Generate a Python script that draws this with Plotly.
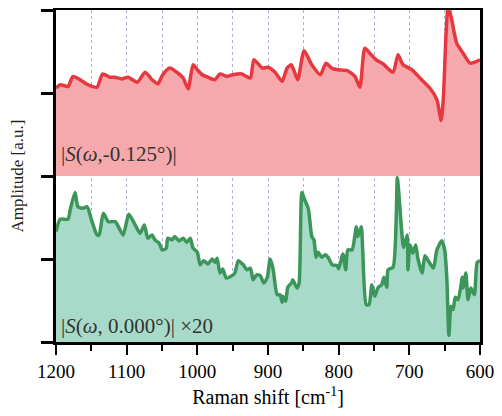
import plotly.graph_objects as go

# Red (top) series: Raman shift [cm^-1] and amplitude (plot units, baseline 2)
red_x = [1200, 1194, 1183, 1176, 1166, 1155, 1142, 1134, 1124, 1117, 1107, 1098, 1085, 1074,
         1064, 1056, 1049, 1039, 1029, 1020, 1013, 1006, 1000, 993, 985, 975, 968, 958, 950,
         937, 925, 920, 908, 900, 890, 880, 873, 867, 858, 849, 838, 826, 818, 810, 801, 788,
         777, 770, 763, 756, 747, 737, 723, 716, 709, 696, 685, 671, 661, 655, 652, 648, 645,
         640, 633, 624, 614, 600]
red_y = [3.06, 3.10, 3.08, 3.20, 3.16, 3.10, 3.07, 3.23, 3.19, 3.19, 3.17, 3.19, 3.13, 3.25,
         3.16, 3.11, 3.22, 3.30, 3.25, 3.18, 3.05, 3.34, 3.28, 3.22, 3.19, 3.16, 3.23, 3.20, 3.22,
         3.23, 3.18, 3.40, 3.30, 3.31, 3.25, 3.14, 3.30, 3.34, 3.16, 3.51, 3.34, 3.22, 3.36, 3.30,
         3.28, 3.27, 3.20, 3.07, 3.54, 3.48, 3.40, 3.35, 3.25, 3.46, 3.34, 3.28, 3.18, 3.06, 2.92,
         2.67, 2.92, 3.72, 4.05, 3.88, 3.60, 3.48, 3.36, 3.40]

# Green (bottom) series, ×20
green_x = [1200, 1194, 1183, 1180, 1173, 1169, 1162, 1156, 1149, 1142, 1139, 1133, 1126, 1116,
           1105, 1097, 1088, 1081, 1075, 1070, 1064, 1060, 1054, 1050, 1044, 1042, 1036, 1032,
           1026, 1020, 1015, 1010, 1006, 1000, 996, 991, 985, 979, 975, 972, 968, 964, 959, 951,
           947, 942, 935, 930, 925, 921, 916, 911, 906, 901, 897, 893, 887, 883, 880, 879, 875,
           872, 866, 865, 859, 856, 852, 848, 843, 838, 835, 832, 829, 824, 819, 815, 809, 802,
           800, 794, 790, 787, 781, 775, 773, 768, 766, 761, 757, 753, 749, 744, 739, 736, 732,
           730, 723, 717, 715, 708, 703, 702, 699, 695, 691, 688, 682, 678, 674, 666, 661, 654,
           650, 647, 644, 641, 638, 635, 631, 625, 624, 620, 617, 613, 608, 604, 600]
green_y = [1.33, 1.48, 1.48, 1.59, 1.80, 1.63, 1.61, 1.63, 1.45, 1.29, 1.29, 1.55, 1.45, 1.45,
           1.29, 1.54, 1.41, 1.31, 1.41, 1.25, 1.29, 1.23, 1.19, 1.11, 1.13, 1.25, 1.23, 1.27,
           1.22, 1.25, 1.20, 1.25, 1.13, 1.08, 0.93, 0.98, 0.94, 1.00, 0.96, 1.01, 0.83, 0.88,
           0.77, 0.80, 0.83, 0.98, 0.93, 0.87, 0.89, 0.75, 0.81, 0.80, 0.71, 0.78, 1.00, 0.89,
           0.57, 0.57, 0.48, 0.55, 0.49, 0.66, 0.72, 0.75, 0.65, 0.71, 1.80, 1.71, 1.61, 1.27,
           1.23, 1.02, 1.08, 1.02, 1.05, 1.02, 0.93, 0.92, 0.88, 1.06, 0.87, 1.11, 1.11, 1.39,
           1.27, 1.39, 1.11, 0.45, 0.45, 0.69, 0.55, 0.66, 0.69, 0.78, 0.66, 0.87, 0.90, 1.98,
           1.81, 1.14, 1.29, 0.87, 1.17, 1.07, 1.17, 1.01, 0.83, 1.04, 0.99, 0.89, 1.11, 1.22,
           1.11, 0.78, 0.08, 0.43, 0.39, 0.54, 0.51, 0.78, 0.65, 0.83, 0.51, 0.65, 0.57, 0.96,
           0.98]

red_baseline = 2
x_ticks = [1200, 1100, 1000, 900, 800, 700, 600]
y_ticks = [0, 1, 2, 3, 4]
label_red = "|<i>S</i>(<i>ω</i>,-0.125°)|"
label_green = "|<i>S</i>(<i>ω</i>, 0.000°)| ×20"

SERIF = "Liberation Serif, Times New Roman, serif"

fig = go.Figure()
fig.add_trace(go.Scatter(x=[x_ticks[0], x_ticks[-1]], y=[red_baseline, red_baseline],
                         mode="lines", line=dict(width=0), hoverinfo="skip", showlegend=False))
fig.add_trace(go.Scatter(x=red_x, y=red_y, mode="lines", fill="tonexty",
                         fillcolor="#f6a9ad",
                         line=dict(color="#e8383f", width=3.5, shape="spline", smoothing=0.6),
                         showlegend=False))
fig.add_trace(go.Scatter(x=green_x, y=green_y, mode="lines", fill="tozeroy",
                         fillcolor="#a7dac8",
                         line=dict(color="#3c965a", width=3.5, shape="spline", smoothing=0.6),
                         showlegend=False))

fig.add_annotation(x=1196, y=2.1, xref="x", yref="y", text=label_red, showarrow=False,
                   xanchor="left", yanchor="bottom", font=dict(family=SERIF, size=21, color="#333"))
fig.add_annotation(x=1196, y=0.02, xref="x", yref="y", text=label_green, showarrow=False,
                   xanchor="left", yanchor="bottom", font=dict(family=SERIF, size=21, color="#333"))

fig.update_xaxes(range=[1200, 600], tickvals=x_ticks, ticks="outside", ticklen=10,
                 tickwidth=2, tickcolor="black", showline=True, linecolor="black", linewidth=2.5,
                 mirror=True, showgrid=True, gridcolor="#aab2dc", griddash="dot", gridwidth=1,
                 minor=dict(dtick=50, ticks="outside", ticklen=6, tickwidth=2, tickcolor="black",
                            showgrid=True, gridcolor="#aab2dc", griddash="dot", gridwidth=1),
                 tickfont=dict(family=SERIF, size=19, color="black"),
                 title=dict(text="Raman shift [cm<sup>-1</sup>]", standoff=10,
                            font=dict(family=SERIF, size=20, color="black")),
                 zeroline=False, automargin=False)
fig.update_yaxes(range=[0, 4], tickvals=y_ticks, showticklabels=False, ticks="outside",
                 ticklen=12, tickwidth=2.5, tickcolor="black", showline=True, linecolor="black",
                 linewidth=2.5, mirror=True, showgrid=False, zeroline=False,
                 title=dict(text="Amplitude [a.u.]", standoff=14,
                            font=dict(family=SERIF, size=17, color="#222")),
                 automargin=False)

fig.update_layout(width=494, height=408, margin=dict(l=48, r=22, t=2, b=74),
                  plot_bgcolor="white", paper_bgcolor="white")

fig.write_html("out.html")
